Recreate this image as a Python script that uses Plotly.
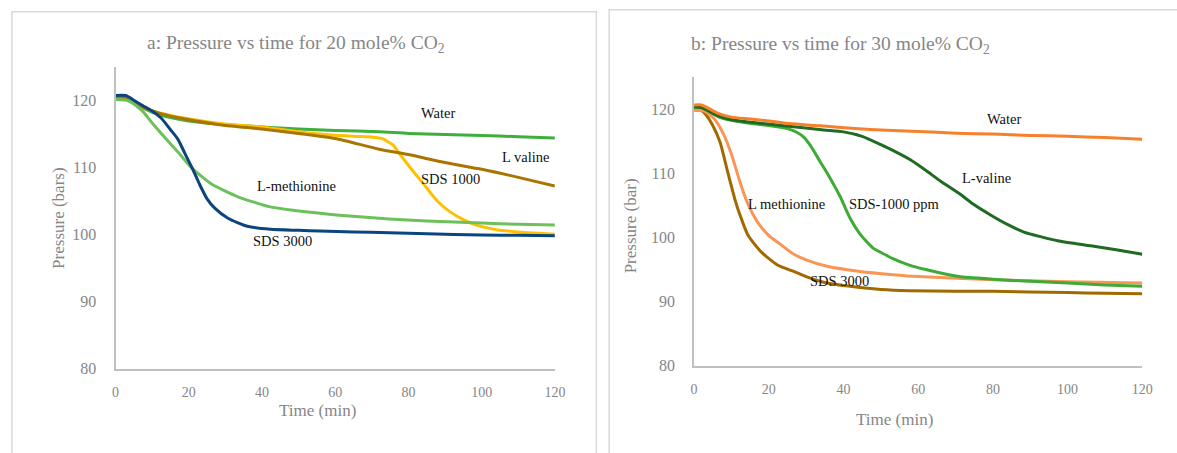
import plotly.graph_objects as go

W, H = 1177, 453
FONT = "Liberation Serif"
GRAY = "#868686"

# ---------------- Panel a: 20 mole% CO2 ----------------
a_water_t = [0, 2, 5, 10, 15, 20, 27, 40, 50, 60, 72, 80, 90, 100, 110, 120]
a_water_p = [120.4, 120.3, 119.5, 118.2, 117.4, 116.9, 116.5, 116.0, 115.7, 115.5, 115.3, 115.05, 114.9, 114.75, 114.55, 114.35]

a_sds1000_t = [0, 2, 5, 10, 14.5, 19, 29, 40, 50, 59, 66, 70, 72.7, 75.8, 78, 81, 84, 88, 91, 95, 99, 104, 109, 114, 120]
a_sds1000_p = [120.5, 120.4, 119.6, 118.4, 117.8, 117.3, 116.5, 116.0, 115.3, 114.8, 114.6, 114.5, 114.3, 113.3, 111.7, 109.6, 107.6, 104.9, 103.5, 102.2, 101.3, 100.7, 100.4, 100.2, 100.0]

a_valine_t = [0, 2, 5, 10, 14.5, 19, 29, 40, 50, 60, 72, 80, 90, 100, 110, 120]
a_valine_p = [120.4, 120.4, 119.6, 118.4, 117.7, 117.2, 116.3, 115.7, 115.05, 114.3, 112.7, 111.9, 110.7, 109.7, 108.5, 107.2]

a_methionine_t = [0, 3.7, 7.3, 10, 14.5, 17, 20.8, 26.2, 33.4, 42.3, 51.3, 60.3, 74.7, 85, 100, 110, 120]
a_methionine_p = [120.1, 119.9, 118.4, 116.6, 113.8, 112.3, 109.9, 107.5, 105.6, 104.1, 103.4, 102.9, 102.3, 102.0, 101.7, 101.5, 101.4]

a_sds3000_t = [0, 2.8, 5, 8, 10, 12.5, 15, 17, 19, 21, 23, 25, 27.1, 30.7, 36, 42.3, 50, 55.8, 65, 74.7, 85, 100, 110, 120]
a_sds3000_p = [120.7, 120.7, 120.0, 119.0, 118.4, 117.3, 115.6, 114.2, 112.0, 109.8, 107.4, 105.3, 103.9, 102.4, 101.2, 100.75, 100.6, 100.5, 100.35, 100.25, 100.1, 99.9, 99.85, 99.8]

# ---------------- Panel b: 30 mole% CO2 ----------------
b_sds3000_t = [0, 2, 3, 5, 7, 9, 11, 12, 14.4, 17.9, 22.3, 26.7, 30, 35.6, 44.4, 50, 57.6, 70, 80, 100, 110, 120]
b_sds3000_p = [119.9, 119.8, 119.3, 117.5, 114.8, 110.2, 105.8, 104.0, 100.4, 97.8, 95.7, 94.7, 93.9, 92.9, 92.2, 91.9, 91.7, 91.6, 91.6, 91.4, 91.3, 91.2]

b_methionine_t = [0, 2.9, 5.6, 8, 10, 12, 14, 17, 20, 22.3, 26.7, 30, 35.6, 44.4, 53.2, 60, 80, 100, 120]
b_methionine_p = [119.9, 119.7, 118.4, 116.0, 113.0, 109.2, 105.8, 102.4, 100.3, 99.3, 97.4, 96.5, 95.5, 94.7, 94.2, 93.9, 93.4, 93.1, 92.9]

b_sds1000_t = [0, 2, 6.4, 10, 15.3, 20, 25, 27.6, 29.5, 31.2, 33.8, 36, 39.1, 41.7, 44, 46.1, 48, 51.4, 53.2, 57.6, 62, 70.9, 80, 88.5, 100, 110, 120]
b_sds1000_p = [120.4, 120.3, 118.9, 118.3, 117.8, 117.5, 117.0, 116.4, 115.6, 114.3, 111.8, 109.7, 106.4, 103.1, 100.9, 99.4, 98.3, 97.25, 96.7, 95.7, 95.0, 93.9, 93.5, 93.2, 92.9, 92.6, 92.4]

b_valine_t = [0, 2, 6.4, 10, 15.3, 24, 34.7, 40, 45, 50, 53.2, 58, 62, 66, 70.9, 75, 79.7, 84, 88.5, 93, 97.3, 106.2, 113, 120]
b_valine_p = [120.4, 120.3, 119.0, 118.4, 118.0, 117.45, 116.8, 116.5, 115.8, 114.5, 113.6, 112.1, 110.5, 108.8, 106.9, 105.1, 103.4, 102.0, 100.8, 100.1, 99.5, 98.7, 98.1, 97.4]

b_water_t = [0, 2, 6.4, 10, 15.3, 24, 34.7, 44, 53.2, 60, 70, 80, 90, 100, 110, 120]
b_water_p = [120.7, 120.7, 119.4, 118.8, 118.5, 117.9, 117.4, 117.0, 116.7, 116.55, 116.3, 116.15, 115.95, 115.8, 115.6, 115.35]

# labels
a_label_text = ["Water", "L valine", "SDS 1000", "L-methionine", "SDS 3000"]
a_label_t = [88.2, 112, 91.6, 49.5, 45.5]
a_label_p = [118.1, 111.6, 108.3, 107.2, 99.05]

b_label_text = ["Water", "L-valine", "L methionine", "SDS-1000 ppm", "SDS 3000"]
b_label_t = [83.1, 78.3, 24.7, 53.7, 38.8]
b_label_p = [118.5, 109.3, 105.3, 105.3, 93.2]

y_ticks = [80, 90, 100, 110, 120]
x_ticks = [0, 20, 40, 60, 80, 100, 120]

fig = go.Figure()

def add(t, p, color, xa, ya, name):
    fig.add_trace(go.Scatter(x=t, y=p, mode="lines", name=name,
                             line=dict(color=color, width=3, shape="spline", smoothing=0.6),
                             xaxis=xa, yaxis=ya, showlegend=False, hoverinfo="skip"))

add(a_water_t, a_water_p, "#3fae3c", "x", "y", "Water")
add(a_sds1000_t, a_sds1000_p, "#ffc000", "x", "y", "SDS 1000")
add(a_valine_t, a_valine_p, "#a87500", "x", "y", "L valine")
add(a_methionine_t, a_methionine_p, "#6cc15a", "x", "y", "L-methionine")
add(a_sds3000_t, a_sds3000_p, "#0b4580", "x", "y", "SDS 3000")

add(b_sds3000_t, b_sds3000_p, "#a06a00", "x2", "y2", "SDS 3000")
add(b_methionine_t, b_methionine_p, "#f99656", "x2", "y2", "L methionine")
add(b_sds1000_t, b_sds1000_p, "#3dab36", "x2", "y2", "SDS-1000 ppm")
add(b_valine_t, b_valine_p, "#1f6b22", "x2", "y2", "L-valine")
add(b_water_t, b_water_p, "#f7802a", "x2", "y2", "Water")

def px(x):
    return x / W

def py(y):
    return 1 - y / H

common_x = dict(range=[0, 120], tickvals=x_ticks, showgrid=False, zeroline=False,
                showline=True, linecolor="#c0c0c0", linewidth=2, ticks="",
                tickfont=dict(family=FONT, size=14, color=GRAY), ticklabelstandoff=10)
common_y = dict(range=[80, 125], tickvals=y_ticks, showgrid=False, zeroline=False,
                showline=True, linecolor="#c0c0c0", linewidth=2, ticks="",
                tickfont=dict(family=FONT, size=16, color=GRAY), ticklabelstandoff=14)

annotations = []
for txt, t, p in zip(a_label_text, a_label_t, a_label_p):
    annotations.append(dict(x=t, y=p, xref="x", yref="y", text=txt, showarrow=False,
                            font=dict(family=FONT, size=14.5, color="#111111")))
for txt, t, p in zip(b_label_text, b_label_t, b_label_p):
    annotations.append(dict(x=t, y=p, xref="x2", yref="y2", text=txt, showarrow=False,
                            font=dict(family=FONT, size=14.5, color="#111111")))

def ann(text, x, y, size, angle=0):
    annotations.append(dict(x=px(x), y=py(y), xref="paper", yref="paper", text=text,
                            showarrow=False, textangle=angle, xanchor="center", yanchor="middle",
                            font=dict(family=FONT, size=size, color=GRAY)))

ann("a: Pressure vs time for 20 mole% CO<sub>2</sub>", 296, 45, 19.5)
ann("b: Pressure vs time for 30 mole% CO<sub>2</sub>", 847, 46, 19.5)
ann("Time (min)", 318, 419, 17)
ann("Time (min)", 902, 428, 17)
ann("Pressure (bars)", 55, 222, 17, -90)
ann("Pressure (bar)", 635, 230, 17, -90)

shapes = [
    dict(type="rect", xref="paper", yref="paper", x0=px(8), x1=px(600), y0=-0.1, y1=py(12),
         line=dict(color="#d9d9d9", width=1.5), fillcolor="rgba(0,0,0,0)", layer="below"),
    dict(type="rect", xref="paper", yref="paper", x0=px(613), x1=1.1, y0=-0.1, y1=py(10),
         line=dict(color="#d9d9d9", width=1.5), fillcolor="rgba(0,0,0,0)", layer="below"),
]

fig.update_layout(
    width=W, height=H, autosize=False,
    margin=dict(l=0, r=0, t=0, b=0),
    paper_bgcolor="white", plot_bgcolor="white",
    xaxis=dict(domain=[px(113), px(558)], anchor="y", **common_x),
    yaxis=dict(domain=[py(376), py(68)], anchor="x", **common_y),
    xaxis2=dict(domain=[px(699), px(1153)], anchor="y2", **common_x),
    yaxis2=dict(domain=[py(373), py(79)], anchor="x2", **common_y),
    annotations=annotations,
    shapes=shapes,
)

fig.write_html("out.html")
